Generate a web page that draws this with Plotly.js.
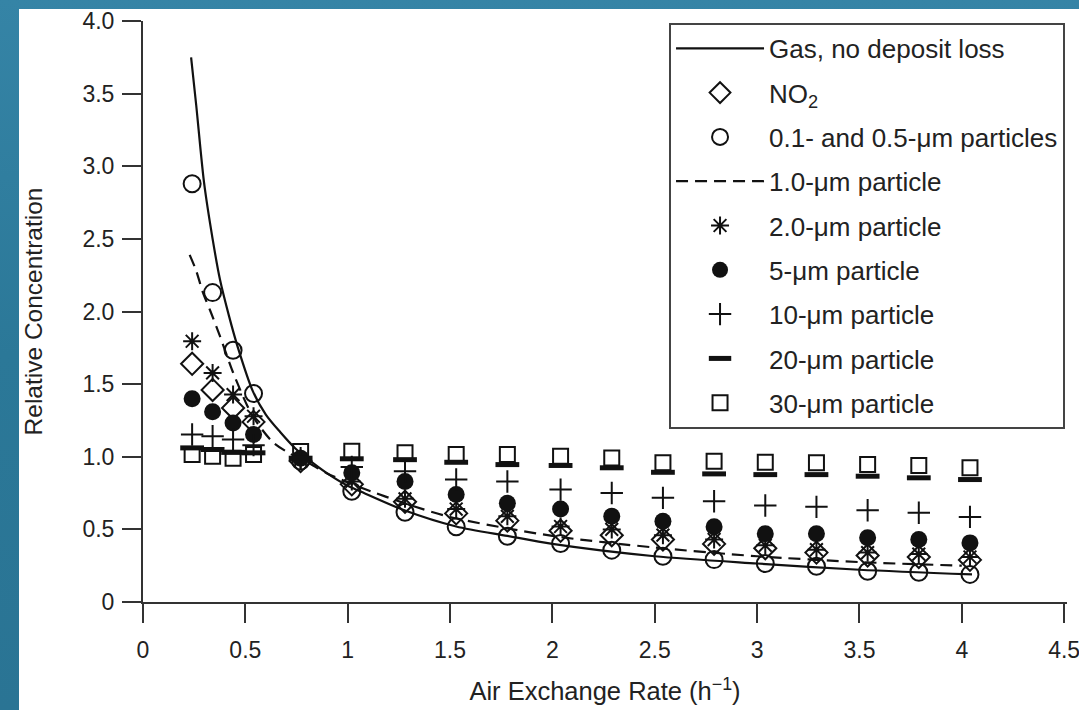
<!DOCTYPE html>
<html>
<head>
<meta charset="utf-8">
<script src="https://cdn.plot.ly/plotly-3.0.1.min.js"></script>
<style>
  html, body { margin:0; padding:0; width:1079px; height:710px; overflow:hidden;
    background: linear-gradient(180deg, #3584a6 0%, #2b7898 50%, #2a7494 100%); }
  #chart { position:absolute; left:19px; top:9px; width:1060px; height:701px; background:#fff; }
</style>
</head>
<body>
<div id="chart"></div>
<script>
// ---- data ----
const xCols = [0.24, 0.34, 0.44, 0.54, 0.77, 1.02, 1.28, 1.53, 1.78, 2.04, 2.29, 2.54, 2.79, 3.04, 3.29, 3.54, 3.79, 4.04];

const gasX = [0.235, 0.26, 0.298, 0.34, 0.376, 0.42, 0.464, 0.537, 0.60, 0.67, 0.742, 0.80, 0.90, 1.0, 1.06, 1.28, 1.53, 1.78, 2.0, 2.5, 3.0, 3.5, 4.05];
const gasY = [3.75, 3.42, 2.89, 2.50, 2.22, 1.97, 1.75, 1.45, 1.29, 1.17, 1.06, 0.99, 0.885, 0.80, 0.763, 0.63, 0.52, 0.455, 0.40, 0.315, 0.265, 0.222, 0.19];

const p1X = [0.228, 0.26, 0.293, 0.33, 0.376, 0.44, 0.51, 0.557, 0.635, 0.72, 0.80, 0.90, 1.06, 1.3, 1.5, 2.0, 2.5, 3.0, 3.5, 4.0];
const p1Y = [2.39, 2.28, 2.13, 2.00, 1.83, 1.58, 1.35, 1.235, 1.10, 1.02, 0.965, 0.885, 0.79, 0.67, 0.585, 0.455, 0.375, 0.315, 0.275, 0.25];

const no2Y    = [1.64, 1.46, 1.336, 1.24, 0.97, 0.81, 0.69, 0.61, 0.56, 0.49, 0.46, 0.43, 0.40, 0.37, 0.34, 0.32, 0.31, 0.29];
const p01Y    = [2.88, 2.13, 1.733, 1.435, 0.97, 0.763, 0.618, 0.518, 0.453, 0.403, 0.357, 0.315, 0.292, 0.265, 0.246, 0.212, 0.205, 0.19];
const p2Y     = [1.795, 1.577, 1.428, 1.279, 0.98, 0.83, 0.71, 0.64, 0.59, 0.52, 0.50, 0.46, 0.43, 0.39, 0.36, 0.34, 0.33, 0.31];
const p5Y     = [1.40, 1.31, 1.233, 1.153, 0.99, 0.889, 0.83, 0.74, 0.68, 0.641, 0.59, 0.556, 0.518, 0.47, 0.47, 0.442, 0.43, 0.407];
const p10Y    = [1.153, 1.141, 1.118, 1.08, 0.99, 0.93, 0.90, 0.843, 0.83, 0.774, 0.75, 0.717, 0.694, 0.664, 0.655, 0.632, 0.614, 0.586];
const p20Y    = [1.061, 1.05, 1.03, 1.027, 0.99, 0.986, 0.98, 0.962, 0.946, 0.94, 0.924, 0.893, 0.882, 0.877, 0.877, 0.866, 0.855, 0.843];
const p30Y    = [1.015, 1.003, 0.99, 1.015, 1.036, 1.038, 1.027, 1.015, 1.015, 1.003, 0.992, 0.958, 0.969, 0.962, 0.958, 0.946, 0.94, 0.924];

const seriesNames = ['Gas, no deposit loss', 'NO<sub>2</sub>', '0.1- and 0.5-μm particles', '1.0-μm particle',
  '2.0-μm particle', '5-μm particle', '10-μm particle', '20-μm particle', '30-μm particle'];

const xTickVals = [0, 0.5, 1, 1.5, 2, 2.5, 3, 3.5, 4, 4.5];
const xTickText = ['0', '0.5', '1', '1.5', '2', '2.5', '3', '3.5', '4', '4.5'];
const yTickVals = [0, 0.5, 1, 1.5, 2, 2.5, 3, 3.5, 4];
const yTickText = ['0', '0.5', '1.0', '1.5', '2.0', '2.5', '3.0', '3.5', '4.0'];

// ---- traces ----
const K = '#111';
function mk(name, y, symbol, size, lw) {
  return {
    x: xCols, y: y, name: name, type: 'scatter', mode: 'markers', legendgroup: name,
    marker: { symbol: symbol, size: size, color: K, line: { color: K, width: lw } },
    hoverinfo: 'x+y'
  };
}
const traces = [
  { x: gasX, y: gasY, name: seriesNames[0], legendgroup: 'g0', type: 'scatter', mode: 'lines',
    line: { color: K, width: 2.2, shape: 'spline', smoothing: 0.8 } },
  mk(seriesNames[1], no2Y, 'diamond-open', 17, 2),
  mk(seriesNames[2], p01Y, 'circle-open', 17, 2),
  { x: p1X, y: p1Y, name: seriesNames[3], legendgroup: 'g3', type: 'scatter', mode: 'lines',
    line: { color: K, width: 2.2, dash: '12px,7px', shape: 'spline', smoothing: 0.8 } },
  mk(seriesNames[4], p2Y, 'asterisk-open', 15, 2),
  mk(seriesNames[5], p5Y, 'circle', 17, 0),
  mk(seriesNames[6], p10Y, 'cross-thin-open', 16, 2),
  mk(seriesNames[7], p20Y, 'line-ew-open', 17, 5),
  mk(seriesNames[8], p30Y, 'square-open', 15, 2)
];

const axisCommon = {
  ticks: 'outside', ticklen: 19, tickwidth: 2, tickcolor: '#333',
  showline: true, linewidth: 2, linecolor: '#333',
  showgrid: false, zeroline: false, tickfont: { size: 23, color: '#222' },
  ticklabeloverflow: 'allow'
};

const layout = {
  width: 1060, height: 701,
  margin: { l: 124, r: 12, t: 12, b: 108 },
  paper_bgcolor: '#fff', plot_bgcolor: '#fff',
  font: { family: 'Liberation Sans, Arial, Helvetica, sans-serif', color: '#222' },
  showlegend: true,
  legend: {
    x: 0.5693, y: 0.9967, xanchor: 'left', yanchor: 'top',
    bordercolor: '#444', borderwidth: 2, bgcolor: '#fff',
    font: { size: 26, color: '#222' }, tracegroupgap: 7.5, itemwidth: 88,
    maxheight: 650
  },
  xaxis: Object.assign({}, axisCommon, {
    range: [0, 4.514], tickmode: 'array', tickvals: xTickVals, ticktext: xTickText,
    ticklabelstandoff: 7,
    title: { text: 'Air Exchange Rate (h<sup>−1</sup>)', font: { size: 25.5, color: '#222' }, standoff: 21 }
  }),
  yaxis: Object.assign({}, axisCommon, {
    range: [0, 4.0], tickmode: 'array', tickvals: yTickVals, ticktext: yTickText,
    ticklabelstandoff: 3,
    title: { text: 'Relative Concentration', font: { size: 24.5, color: '#222' }, standoff: 33 }
  })
};

Plotly.newPlot('chart', traces, layout, { displayModeBar: false, staticPlot: true });
</script>
</body>
</html>
